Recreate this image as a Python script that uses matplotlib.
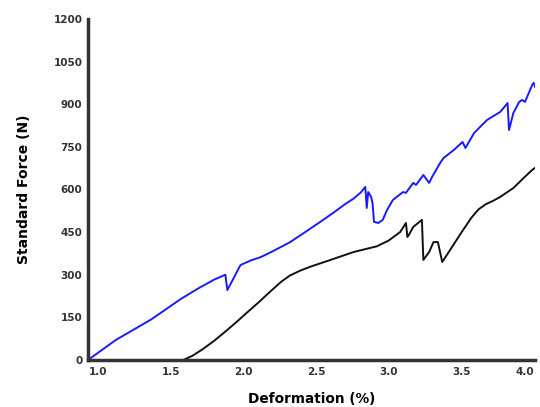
import matplotlib.pyplot as plt

# Blue specimen
blue_x = [0.93, 1.12, 1.36, 1.46, 1.57, 1.70, 1.80, 1.876, 1.89, 1.98, 2.05, 2.12,
          2.20, 2.32, 2.42, 2.53, 2.62, 2.70, 2.76, 2.81, 2.84, 2.85, 2.86, 2.88,
          2.89, 2.90, 2.93, 2.96, 2.99, 3.03, 3.10, 3.12, 3.17, 3.19, 3.23, 3.24,
          3.28, 3.30, 3.36, 3.38, 3.45, 3.51, 3.53, 3.59, 3.68, 3.77, 3.82, 3.83,
          3.86, 3.90, 3.92, 3.94, 3.99, 4.00, 4.01]
blue_y = [0, 70, 141, 176, 215, 255, 283, 300, 246, 334, 350, 362,
          382, 414, 448, 486, 518, 548, 568, 590, 609, 535, 591, 574,
          552, 486, 482, 493, 528, 563, 591, 588, 623, 616, 644, 651,
          623, 644, 697, 711, 739, 767, 746, 799, 845, 873, 904, 809,
          869, 908, 915, 908, 968, 975, 960]

# Black specimen
black_x = [1.586, 1.65, 1.72, 1.80, 1.89, 1.96, 2.03, 2.11, 2.19, 2.26, 2.32, 2.39,
           2.46, 2.53, 2.60, 2.68, 2.76, 2.84, 2.92, 3.00, 3.08, 3.12, 3.13, 3.14,
           3.17, 3.23, 3.24, 3.28, 3.31, 3.34, 3.37, 3.41, 3.50, 3.57, 3.62, 3.67,
           3.72, 3.77, 3.86, 3.93, 3.99, 4.01]
black_y = [0, 15, 38, 68, 106, 137, 169, 205, 243, 275, 297, 314,
           328, 340, 352, 366, 380, 390, 400, 420, 450, 482, 433, 440,
           468, 493, 352, 380, 415, 415, 345, 376, 447, 500, 530, 548,
           560, 574, 605, 640, 669, 676]

y_ticks = [0, 150, 300, 450, 600, 750, 900, 1050, 1200]
x_ticks = [1.0, 1.5, 2.0, 2.5, 3.0, 3.5, 4.0]

fig = plt.figure(figsize=(5.4, 4.07), dpi=100)
ax = fig.add_axes([0.163, 0.1155, 0.828, 0.838])

ax.plot(blue_x, blue_y, color='#1a1aff', linewidth=1.4)
ax.plot(black_x, black_y, color='#111111', linewidth=1.4)

ax.set_xlim(0.93, 4.01)
ax.set_ylim(0, 1200)
ax.set_xticks(x_ticks)
ax.set_xticklabels([f'{v:.1f}' for v in x_ticks])
ax.set_yticks(y_ticks)

for side in ['top', 'right']:
    ax.spines[side].set_visible(False)
for side in ['left', 'bottom']:
    ax.spines[side].set_linewidth(2.5)
    ax.spines[side].set_color('#333333')

ax.tick_params(axis='both', length=0, labelsize=7.5, labelcolor='#333333')
ax.tick_params(axis='x', pad=5)
ax.tick_params(axis='y', pad=4)
for lbl in ax.get_xticklabels() + ax.get_yticklabels():
    lbl.set_fontweight('bold')
# keep the last x label inside the figure
ax.get_xticklabels()[-1].set_horizontalalignment('right')

ax.set_xlabel('Deformation (%)', fontsize=9.8, fontweight='bold', labelpad=11)
ax.set_ylabel('Standard Force (N)', fontsize=10, fontweight='bold', labelpad=16)

fig.savefig('out.png', dpi=100)
